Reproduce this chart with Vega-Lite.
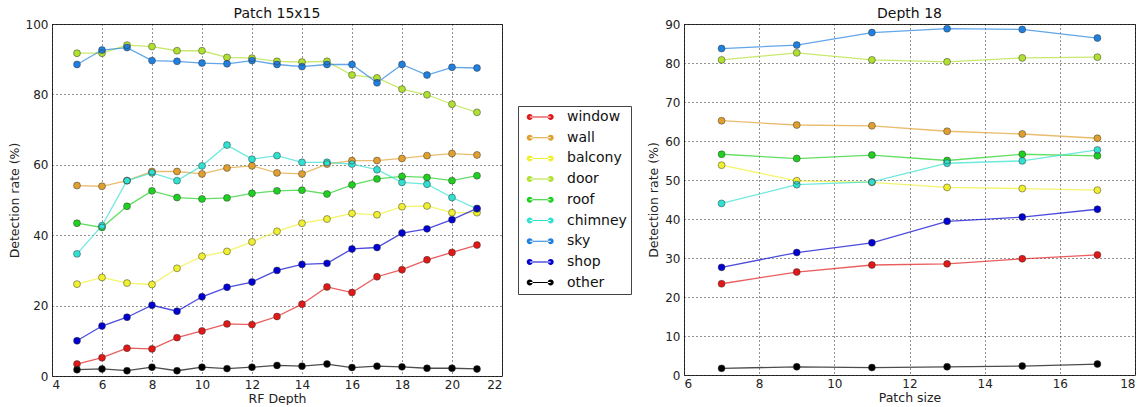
{
  "$schema": "https://vega.github.io/schema/vega-lite/v6.json",
  "padding": {"left": 7, "top": 6, "right": 0, "bottom": 0},
  "background": "white",
  "config": {
    "font": "DejaVu Sans",
    "view": {"stroke": "#333", "strokeWidth": 1},
    "axis": {"grid": true, "gridColor": "#000", "gridDash": [1, 3], "gridOpacity": 0.85, "gridWidth": 1, "domain": false, "ticks": false, "labelFontSize": 12, "labelColor": "#222", "labelPadding": 4, "titleFontSize": 12.5, "titleFontWeight": "normal", "titleColor": "#222", "titlePadding": 4},
    "title": {"fontSize": 14, "fontWeight": "normal", "color": "#111", "offset": -3}
  },
  "datasets": {
    "rf": [
      {"cls":"window","x":5,"y":3.4},{"cls":"window","x":6,"y":5.2},{"cls":"window","x":7,"y":7.9},{"cls":"window","x":8,"y":7.7},{"cls":"window","x":9,"y":10.9},{"cls":"window","x":10,"y":12.8},{"cls":"window","x":11,"y":14.8},{"cls":"window","x":12,"y":14.6},{"cls":"window","x":13,"y":16.9},{"cls":"window","x":14,"y":20.4},{"cls":"window","x":15,"y":25.3},{"cls":"window","x":16,"y":23.7},{"cls":"window","x":17,"y":28.2},{"cls":"window","x":18,"y":30.2},{"cls":"window","x":19,"y":33.0},{"cls":"window","x":20,"y":35.1},{"cls":"window","x":21,"y":37.2},
      {"cls":"wall","x":5,"y":54.1},{"cls":"wall","x":6,"y":53.9},{"cls":"wall","x":7,"y":55.5},{"cls":"wall","x":8,"y":58.1},{"cls":"wall","x":9,"y":58.1},{"cls":"wall","x":10,"y":57.4},{"cls":"wall","x":11,"y":59.1},{"cls":"wall","x":12,"y":59.7},{"cls":"wall","x":13,"y":57.7},{"cls":"wall","x":14,"y":57.4},{"cls":"wall","x":15,"y":60.2},{"cls":"wall","x":16,"y":61.2},{"cls":"wall","x":17,"y":61.2},{"cls":"wall","x":18,"y":61.8},{"cls":"wall","x":19,"y":62.6},{"cls":"wall","x":20,"y":63.2},{"cls":"wall","x":21,"y":62.8},
      {"cls":"balcony","x":5,"y":26.1},{"cls":"balcony","x":6,"y":28.0},{"cls":"balcony","x":7,"y":26.4},{"cls":"balcony","x":8,"y":26.0},{"cls":"balcony","x":9,"y":30.6},{"cls":"balcony","x":10,"y":34.0},{"cls":"balcony","x":11,"y":35.4},{"cls":"balcony","x":12,"y":38.1},{"cls":"balcony","x":13,"y":41.1},{"cls":"balcony","x":14,"y":43.4},{"cls":"balcony","x":15,"y":44.6},{"cls":"balcony","x":16,"y":46.2},{"cls":"balcony","x":17,"y":45.8},{"cls":"balcony","x":18,"y":48.1},{"cls":"balcony","x":19,"y":48.3},{"cls":"balcony","x":20,"y":46.4},{"cls":"balcony","x":21,"y":46.4},
      {"cls":"door","x":5,"y":91.7},{"cls":"door","x":6,"y":91.7},{"cls":"door","x":7,"y":94.0},{"cls":"door","x":8,"y":93.6},{"cls":"door","x":9,"y":92.4},{"cls":"door","x":10,"y":92.4},{"cls":"door","x":11,"y":90.5},{"cls":"door","x":12,"y":90.3},{"cls":"door","x":13,"y":89.4},{"cls":"door","x":14,"y":89.2},{"cls":"door","x":15,"y":89.4},{"cls":"door","x":16,"y":85.5},{"cls":"door","x":17,"y":84.7},{"cls":"door","x":18,"y":81.5},{"cls":"door","x":19,"y":79.9},{"cls":"door","x":20,"y":77.2},{"cls":"door","x":21,"y":74.9},
      {"cls":"roof","x":5,"y":43.4},{"cls":"roof","x":6,"y":42.2},{"cls":"roof","x":7,"y":48.2},{"cls":"roof","x":8,"y":52.6},{"cls":"roof","x":9,"y":50.7},{"cls":"roof","x":10,"y":50.3},{"cls":"roof","x":11,"y":50.6},{"cls":"roof","x":12,"y":51.9},{"cls":"roof","x":13,"y":52.6},{"cls":"roof","x":14,"y":52.8},{"cls":"roof","x":15,"y":51.7},{"cls":"roof","x":16,"y":54.3},{"cls":"roof","x":17,"y":56.0},{"cls":"roof","x":18,"y":56.7},{"cls":"roof","x":19,"y":56.4},{"cls":"roof","x":20,"y":55.5},{"cls":"roof","x":21,"y":56.9},
      {"cls":"chimney","x":5,"y":34.7},{"cls":"chimney","x":6,"y":42.7},{"cls":"chimney","x":7,"y":55.5},{"cls":"chimney","x":8,"y":57.7},{"cls":"chimney","x":9,"y":55.5},{"cls":"chimney","x":10,"y":59.7},{"cls":"chimney","x":11,"y":65.6},{"cls":"chimney","x":12,"y":61.6},{"cls":"chimney","x":13,"y":62.6},{"cls":"chimney","x":14,"y":60.7},{"cls":"chimney","x":15,"y":60.7},{"cls":"chimney","x":16,"y":60.2},{"cls":"chimney","x":17,"y":58.6},{"cls":"chimney","x":18,"y":55.0},{"cls":"chimney","x":19,"y":54.5},{"cls":"chimney","x":20,"y":50.7},{"cls":"chimney","x":21,"y":47.5},
      {"cls":"sky","x":5,"y":88.5},{"cls":"sky","x":6,"y":92.6},{"cls":"sky","x":7,"y":93.3},{"cls":"sky","x":8,"y":89.6},{"cls":"sky","x":9,"y":89.4},{"cls":"sky","x":10,"y":88.9},{"cls":"sky","x":11,"y":88.7},{"cls":"sky","x":12,"y":89.6},{"cls":"sky","x":13,"y":88.5},{"cls":"sky","x":14,"y":87.9},{"cls":"sky","x":15,"y":88.5},{"cls":"sky","x":16,"y":88.5},{"cls":"sky","x":17,"y":83.3},{"cls":"sky","x":18,"y":88.5},{"cls":"sky","x":19,"y":85.5},{"cls":"sky","x":20,"y":87.7},{"cls":"sky","x":21,"y":87.5},
      {"cls":"shop","x":5,"y":10.0},{"cls":"shop","x":6,"y":14.2},{"cls":"shop","x":7,"y":16.7},{"cls":"shop","x":8,"y":20.1},{"cls":"shop","x":9,"y":18.4},{"cls":"shop","x":10,"y":22.5},{"cls":"shop","x":11,"y":25.2},{"cls":"shop","x":12,"y":26.7},{"cls":"shop","x":13,"y":30.0},{"cls":"shop","x":14,"y":31.7},{"cls":"shop","x":15,"y":32.0},{"cls":"shop","x":16,"y":36.1},{"cls":"shop","x":17,"y":36.5},{"cls":"shop","x":18,"y":40.6},{"cls":"shop","x":19,"y":41.8},{"cls":"shop","x":20,"y":44.4},{"cls":"shop","x":21,"y":47.6},
      {"cls":"other","x":5,"y":1.8},{"cls":"other","x":6,"y":2.0},{"cls":"other","x":7,"y":1.5},{"cls":"other","x":8,"y":2.5},{"cls":"other","x":9,"y":1.5},{"cls":"other","x":10,"y":2.5},{"cls":"other","x":11,"y":2.1},{"cls":"other","x":12,"y":2.5},{"cls":"other","x":13,"y":3.0},{"cls":"other","x":14,"y":2.8},{"cls":"other","x":15,"y":3.4},{"cls":"other","x":16,"y":2.4},{"cls":"other","x":17,"y":2.8},{"cls":"other","x":18,"y":2.6},{"cls":"other","x":19,"y":2.2},{"cls":"other","x":20,"y":2.2},{"cls":"other","x":21,"y":2.0}
    ],
    "patch": [
      {"cls":"window","x":7,"y":23.4},{"cls":"window","x":9,"y":26.4},{"cls":"window","x":11,"y":28.2},{"cls":"window","x":13,"y":28.5},{"cls":"window","x":15,"y":29.8},{"cls":"window","x":17,"y":30.8},
      {"cls":"wall","x":7,"y":65.2},{"cls":"wall","x":9,"y":64.1},{"cls":"wall","x":11,"y":63.9},{"cls":"wall","x":13,"y":62.5},{"cls":"wall","x":15,"y":61.8},{"cls":"wall","x":17,"y":60.7},
      {"cls":"balcony","x":7,"y":53.8},{"cls":"balcony","x":9,"y":49.8},{"cls":"balcony","x":11,"y":49.4},{"cls":"balcony","x":13,"y":48.1},{"cls":"balcony","x":15,"y":47.8},{"cls":"balcony","x":17,"y":47.4},
      {"cls":"door","x":7,"y":80.8},{"cls":"door","x":9,"y":82.6},{"cls":"door","x":11,"y":80.8},{"cls":"door","x":13,"y":80.3},{"cls":"door","x":15,"y":81.3},{"cls":"door","x":17,"y":81.5},
      {"cls":"roof","x":7,"y":56.6},{"cls":"roof","x":9,"y":55.5},{"cls":"roof","x":11,"y":56.4},{"cls":"roof","x":13,"y":55.0},{"cls":"roof","x":15,"y":56.6},{"cls":"roof","x":17,"y":56.2},
      {"cls":"chimney","x":7,"y":44.0},{"cls":"chimney","x":9,"y":48.8},{"cls":"chimney","x":11,"y":49.5},{"cls":"chimney","x":13,"y":54.3},{"cls":"chimney","x":15,"y":54.9},{"cls":"chimney","x":17,"y":57.7},
      {"cls":"sky","x":7,"y":83.7},{"cls":"sky","x":9,"y":84.6},{"cls":"sky","x":11,"y":87.8},{"cls":"sky","x":13,"y":88.8},{"cls":"sky","x":15,"y":88.6},{"cls":"sky","x":17,"y":86.4},
      {"cls":"shop","x":7,"y":27.6},{"cls":"shop","x":9,"y":31.4},{"cls":"shop","x":11,"y":33.9},{"cls":"shop","x":13,"y":39.4},{"cls":"shop","x":15,"y":40.5},{"cls":"shop","x":17,"y":42.5},
      {"cls":"other","x":7,"y":1.7},{"cls":"other","x":9,"y":2.1},{"cls":"other","x":11,"y":1.9},{"cls":"other","x":13,"y":2.1},{"cls":"other","x":15,"y":2.3},{"cls":"other","x":17,"y":2.8}
    ]
  },
  "bounds": "flush",
  "spacing": 182,
  "resolve": {"legend": {"color": "independent"}},
  "hconcat": [
    {
      "width": 450,
      "height": 352,
      "title": "Patch 15x15",
      "data": {"name": "rf"},
      "encoding": {
        "x": {"field": "x", "type": "quantitative", "scale": {"domain": [4, 22], "nice": false, "zero": false}, "axis": {"values": [4, 6, 8, 10, 12, 14, 16, 18, 20, 22], "title": "RF Depth", "titlePadding": 2, "labelPadding": 3}},
        "y": {"field": "y", "type": "quantitative", "scale": {"domain": [0, 100], "nice": false}, "axis": {"values": [0, 20, 40, 60, 80, 100], "title": "Detection rate (%)"}},
        "color": {
          "field": "cls", "type": "nominal",
          "scale": {"domain": ["window", "wall", "balcony", "door", "roof", "chimney", "sky", "shop", "other"], "range": ["#e01818", "#e0a030", "#f0f030", "#b0e030", "#20d020", "#30e0d0", "#2080e0", "#0000d0", "#000000"]},
          "legend": {"title": null, "orient": "none", "legendX": 466, "legendY": 82, "padding": 4, "strokeColor": "#444", "fillColor": "white", "labelFontSize": 14, "labelColor": "#111", "labelOffset": 31, "rowPadding": 6.7, "symbolSize": 110, "symbolStrokeWidth": 0, "symbolOpacity": 1, "symbolType": "M0.14,-0.1 L4.14,-0.1 L4.14,0.1 L0.14,0.1 Z M0.71,0 A0.57,0.57 0 1,0 -0.43,0 A0.57,0.57 0 1,0 0.71,0 Z M4.71,0 A0.57,0.57 0 1,0 3.57,0 A0.57,0.57 0 1,0 4.71,0 Z"}
        }
      },
      "layer": [
        {"mark": {"type": "line", "strokeWidth": 1.3, "opacity": 0.7}},
        {"mark": {"type": "point", "filled": true, "size": 48, "opacity": 1}},
        {"mark": {"type": "point", "filled": false, "size": 48, "strokeWidth": 0.6, "opacity": 0.8}, "encoding": {"color": {"value": "#333"}}}
      ]
    },
    {
      "width": 451,
      "height": 351,
      "title": "Depth 18",
      "data": {"name": "patch"},
      "encoding": {
        "x": {"field": "x", "type": "quantitative", "scale": {"domain": [6, 18], "nice": false, "zero": false}, "axis": {"values": [6, 8, 10, 12, 14, 16, 18], "title": "Patch size", "titlePadding": 2, "labelPadding": 3}},
        "y": {"field": "y", "type": "quantitative", "scale": {"domain": [0, 90], "nice": false}, "axis": {"values": [0, 10, 20, 30, 40, 50, 60, 70, 80, 90], "title": "Detection rate (%)"}},
        "color": {
          "field": "cls", "type": "nominal",
          "scale": {"domain": ["window", "wall", "balcony", "door", "roof", "chimney", "sky", "shop", "other"], "range": ["#e01818", "#e0a030", "#f0f030", "#b0e030", "#20d020", "#30e0d0", "#2080e0", "#0000d0", "#000000"]},
          "legend": null
        }
      },
      "layer": [
        {"mark": {"type": "line", "strokeWidth": 1.3, "opacity": 0.7}},
        {"mark": {"type": "point", "filled": true, "size": 48, "opacity": 1}},
        {"mark": {"type": "point", "filled": false, "size": 48, "strokeWidth": 0.6, "opacity": 0.8}, "encoding": {"color": {"value": "#333"}}}
      ]
    }
  ]
}
